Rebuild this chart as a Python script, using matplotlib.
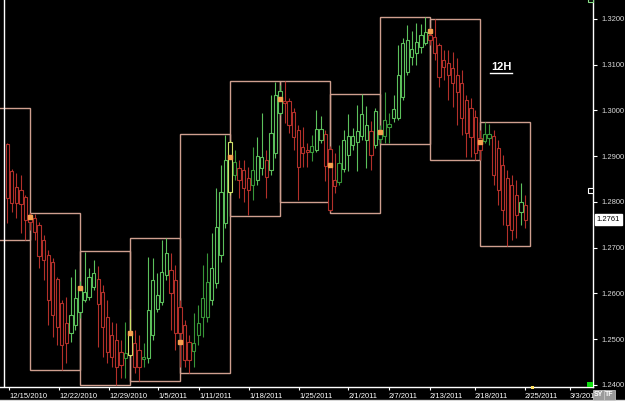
import matplotlib
matplotlib.use("Agg")
import matplotlib.pyplot as plt
from matplotlib.patches import Rectangle
from matplotlib.lines import Line2D

# ---------------- data (EUR/USD-like, 12H candles) ----------------
opens = [1.2927, 1.2868, 1.2833, 1.2826, 1.2811,
         1.2772, 1.2765, 1.2750, 1.2717, 1.2684, 1.2669, 1.2632, 1.2579, 1.2535, 1.2514, 1.2531,
         1.2560, 1.2586, 1.2592, 1.2614, 1.2632, 1.2603, 1.2549, 1.2509, 1.2498, 1.2472, 1.2459,
         1.2466, 1.2492, 1.2476, 1.2457, 1.2459, 1.2509, 1.2566, 1.2581, 1.2640, 1.2651, 1.2629,
         1.2570, 1.2531, 1.2494, 1.2474, 1.2509, 1.2549, 1.2549, 1.2586, 1.2623, 1.2684, 1.2754,
         1.2822, 1.2859, 1.2874, 1.2870, 1.2852, 1.2837, 1.2848, 1.2874, 1.2892, 1.2870, 1.2907,
         1.2995, 1.3021, 1.3021, 1.2997, 1.2958, 1.2920, 1.2914, 1.2909, 1.2914, 1.2936, 1.2949,
         1.2916, 1.2849, 1.2844, 1.2873, 1.2903, 1.2925, 1.2931, 1.2944, 1.2969, 1.2955, 1.2925,
         1.2938, 1.2944, 1.2964, 1.2984, 1.2984, 1.3029, 1.3084, 1.3117, 1.3126, 1.3139, 1.3148,
         1.3165, 1.3161, 1.3143, 1.3110, 1.3104, 1.3093, 1.3078, 1.3060, 1.3023, 1.3005, 1.2986,
         1.2940, 1.2933, 1.2940, 1.2944, 1.2918, 1.2881, 1.2852, 1.2837, 1.2815, 1.2778, 1.2793]
highs = [1.2929, 1.2872, 1.2863, 1.2859, 1.2815,
         1.2776, 1.2774, 1.2756, 1.2728, 1.2695, 1.2678, 1.2636, 1.2586, 1.2592, 1.2636, 1.2654,
         1.2627, 1.2691, 1.2656, 1.2673, 1.2660, 1.2619, 1.2586, 1.2538, 1.2535, 1.2498, 1.2538,
         1.2566, 1.2520, 1.2509, 1.2492, 1.2680, 1.2678, 1.2645, 1.2717, 1.2721, 1.2689, 1.2662,
         1.2586, 1.2542, 1.2509, 1.2557, 1.2575, 1.2662, 1.2689, 1.2732, 1.2831, 1.2881, 1.2946,
         1.2935, 1.2914, 1.2892, 1.2892, 1.2877, 1.2920, 1.2942, 1.2995, 1.2914, 1.3034, 1.3062,
         1.3056, 1.3064, 1.3027, 1.3005, 1.2968, 1.2964, 1.2929, 1.2947, 1.3000, 1.2987, 1.2957,
         1.2922, 1.2907, 1.2925, 1.2957, 1.2992, 1.2962, 1.3013, 1.3035, 1.3010, 1.2977, 1.3005,
         1.2968, 1.3040, 1.2995, 1.3034, 1.3143, 1.3158, 1.3187, 1.3174, 1.3191, 1.3189, 1.3204,
         1.3180, 1.3200, 1.3148, 1.3132, 1.3132, 1.3128, 1.3115, 1.3089, 1.3034, 1.3027, 1.3001,
         1.2957, 1.2975, 1.2970, 1.2957, 1.2936, 1.2903, 1.2870, 1.2859, 1.2848, 1.2841, 1.2815]
lows = [1.2754, 1.2778, 1.2765, 1.2732, 1.2717,
        1.2739, 1.2717, 1.2656, 1.2629, 1.2531, 1.2505, 1.2487, 1.2433, 1.2448, 1.2494, 1.2520,
        1.2546, 1.2581, 1.2586, 1.2608, 1.2483, 1.2461, 1.2448, 1.2439, 1.2400, 1.2415, 1.2415,
        1.2461, 1.2426, 1.2409, 1.2439, 1.2448, 1.2498, 1.2560, 1.2575, 1.2629, 1.2520, 1.2476,
        1.2439, 1.2439, 1.2426, 1.2439, 1.2487, 1.2505, 1.2538, 1.2575, 1.2612, 1.2669, 1.2743,
        1.2815, 1.2848, 1.2809, 1.2800, 1.2772, 1.2804, 1.2837, 1.2859, 1.2809, 1.2859, 1.2896,
        1.2990, 1.2973, 1.2951, 1.2914, 1.2805, 1.2877, 1.2877, 1.2890, 1.2909, 1.2929, 1.2846,
        1.2780, 1.2820, 1.2837, 1.2866, 1.2868, 1.2914, 1.2868, 1.2936, 1.2874, 1.2871, 1.2918,
        1.2929, 1.2929, 1.2929, 1.2975, 1.2979, 1.3023, 1.3078, 1.3099, 1.3099, 1.3126, 1.3143,
        1.3143, 1.3110, 1.3051, 1.3067, 1.3023, 1.3008, 1.2968, 1.2946, 1.2898, 1.2898, 1.2892,
        1.2892, 1.2929, 1.2925, 1.2837, 1.2793, 1.2750, 1.2704, 1.2717, 1.2721, 1.2750, 1.2743]
closes = [1.2809, 1.2798, 1.2798, 1.2796, 1.2761,
          1.2756, 1.2734, 1.2682, 1.2673, 1.2586, 1.2553, 1.2527, 1.2487, 1.2492, 1.2553, 1.2590,
          1.2614, 1.2603, 1.2636, 1.2645, 1.2577, 1.2527, 1.2472, 1.2461, 1.2439, 1.2444, 1.2470,
          1.2514, 1.2439, 1.2439, 1.2461, 1.2564, 1.2629, 1.2597, 1.2647, 1.2689, 1.2601, 1.2514,
          1.2514, 1.2455, 1.2455, 1.2492, 1.2535, 1.2590, 1.2625, 1.2656, 1.2745, 1.2822, 1.2892,
          1.2931, 1.2887, 1.2848, 1.2831, 1.2826, 1.2870, 1.2901, 1.2898, 1.2855, 1.2951, 1.3034,
          1.3043, 1.3016, 1.2969, 1.2942, 1.2877, 1.2907, 1.2909, 1.2922, 1.2960, 1.2960, 1.2879,
          1.2783, 1.2835, 1.2885, 1.2936, 1.2944, 1.2944, 1.2955, 1.2992, 1.2936, 1.2903, 1.2999,
          1.2955, 1.2979, 1.2970, 1.3003, 1.3078, 1.3148, 1.3154, 1.3134, 1.3150, 1.3165, 1.3172,
          1.3154, 1.3126, 1.3073, 1.3095, 1.3078, 1.3060, 1.3040, 1.2984, 1.2951, 1.2942, 1.2907,
          1.2914, 1.2949, 1.2949, 1.2859, 1.2826, 1.2782, 1.2750, 1.2739, 1.2772, 1.2800, 1.2761]
# trend colour code per candle (one string per week):
# r = red, g = green, G = dark green, y = yellow-green
trend_by_week = ["rrrrr", "rrrrrrrrrgg", "ggggrrrrrrG", "yrrGgggggrr", "rrrGGGGgggg",
                 "yGrrrGggrgg", "grrrrrrGggr", "rrGggggggrg", "GGGgggggggg", "rrrrrrrrrrr",
                 "rGGrrrrrrgr"]
trend = "".join(trend_by_week)

# weekly range boxes (high / low of each week) and weekly opening prices
week_high = [1.3005, 1.2776, 1.2692, 1.2721, 1.2949, 1.3064, 1.3065, 1.3036, 1.3204, 1.3200, 1.2975]
week_low = [1.2717, 1.2433, 1.2399, 1.2408, 1.2426, 1.2769, 1.2800, 1.2776, 1.2927, 1.2892, 1.2704]
week_open = [None, 1.2767, 1.2612, 1.2514, 1.2495, 1.2898, 1.3026, 1.2880, 1.2953, 1.3174, 1.2932]
candles_per_week = 11
first_week_start = -6

date_labels = ["12/15/2010", "12/22/2010", "12/29/2010", "1/5/2011", "1/11/2011", "1/18/2011",
               "1/25/2011", "2/1/2011", "2/7/2011", "2/13/2011", "2/18/2011", "2/25/2011", "3/3/201"]
date_pos = [0.4, 11.4, 22.4, 33.2, 42.2, 53.2, 64.2, 75.0, 84.0, 93.0, 102.9, 113.9, 123.8]
price_ticks = [1.24, 1.25, 1.26, 1.27, 1.28, 1.29, 1.30, 1.31, 1.32]
last_price = 1.2761
timeframe = "12H"

# ---------------- styling ----------------
W, H = 625, 401
palette = {"r": "#b3302a", "g": "#5cc05c", "G": "#389638", "y": "#cfe06a"}
box_color = "#cf9f8f"
font = "Liberation Sans"

fig = plt.figure(figsize=(W / 100, H / 100), dpi=100, facecolor="black")
ax = fig.add_axes([0, 14 / H, 593 / W, 387 / H], facecolor="black")
ax.set_xlim(-1.606, 128.87)
ax.set_ylim(1.23956, 1.32415)

# weekly boxes
for w in range(len(week_high)):
    start = first_week_start + w * candles_per_week
    ax.add_patch(Rectangle((start, week_low[w]), candles_per_week, week_high[w] - week_low[w],
                           fill=False, edgecolor=box_color, lw=1.0, zorder=1))

# candles (hollow bodies)
bw = 0.72
for k in range(len(opens)):
    col = palette[trend[k]]
    ax.plot([k, k], [lows[k], highs[k]], color=col, lw=0.8, zorder=2, solid_capstyle="butt")
    lo, hi = min(opens[k], closes[k]), max(opens[k], closes[k])
    hgt = max(hi - lo, 0.00012)
    ax.add_patch(Rectangle((k - bw / 2, lo), bw, hgt, facecolor="black", edgecolor=col,
                           lw=0.8, zorder=3))

# weekly open markers
for w in range(1, len(week_open)):
    start = first_week_start + w * candles_per_week
    ax.plot(start, week_open[w], "s", ms=2.6, color="#f5a050", mec="#f5a050", zorder=6)

# axes decoration
for s in ("top", "left"):
    ax.spines[s].set_visible(False)
for s in ("right", "bottom"):
    ax.spines[s].set_color("white")
    ax.spines[s].set_linewidth(1.0)
ax.axvline(-0.68, color="white", lw=1.0, zorder=5)

ax.yaxis.tick_right()
ax.set_yticks(price_ticks)
ax.set_yticklabels([f"{v:.4f}" for v in price_ticks], fontfamily=font)
ax.tick_params(axis="y", direction="out", length=3, width=0.8, colors="white",
               labelcolor="#d8d8d8", labelsize=5.5, pad=3)
ax.set_xticks(date_pos)
ax.set_xticklabels(date_labels, fontfamily=font)
ax.tick_params(axis="x", direction="out", length=2.5, width=0.8, colors="white",
               labelcolor="white", labelsize=5.5, pad=1.5)
for lab in ax.get_xticklabels():
    lab.set_horizontalalignment("left")

# last price tag
ax.text(1.006, last_price, f"{last_price:.4f}", transform=ax.get_yaxis_transform(),
        ha="left", va="center", fontsize=5.5, fontfamily=font, color="black",
        bbox=dict(boxstyle="square,pad=0.25", facecolor="white", edgecolor="white"),
        clip_on=False, zorder=6)

# timeframe label
fig.text(501 / W, 1 - 66.5 / H, timeframe, ha="center", va="center", color="white",
         fontsize=8, fontweight="bold", fontfamily=font)
fig.add_artist(Line2D([490 / W, 512 / W], [1 - 72.5 / H, 1 - 72.5 / H], color="white", lw=1.0))

# small widgets around the price scale
fig.add_artist(Rectangle((587 / W, 1 - 387 / H), 6 / W, 5 / H, transform=fig.transFigure,
                         facecolor="#11dd11", edgecolor="none"))
fig.add_artist(Rectangle((531 / W, 1 - 388.5 / H), 3 / W, 3 / H, transform=fig.transFigure,
                         facecolor="#ffe060", edgecolor="none"))
fig.add_artist(Rectangle((588 / W, 1 - 193 / H), 5 / W, 5 / H, transform=fig.transFigure,
                         facecolor="black", edgecolor="white", lw=0.8))
fig.add_artist(Rectangle((588 / W, 1 - 2 / H), 5 / W, 3 / H, transform=fig.transFigure,
                         facecolor="black", edgecolor="#88dd88", lw=0.8))
for txt, xp in (("SY", 599), ("TF", 609.5)):
    fig.text(xp / W, 1 - 395 / H, txt, ha="center", va="center", fontsize=5, fontfamily=font,
             color="white", fontweight="bold",
             bbox=dict(boxstyle="square,pad=0.15", facecolor="#9a9a9a", edgecolor="#d0d0d0", lw=0.5))
fig.add_artist(Line2D([0, 1], [1 - 399.5 / H, 1 - 399.5 / H], color="#d8d8d8", lw=1.0))

fig.savefig("out.png", dpi=100, facecolor="black")
